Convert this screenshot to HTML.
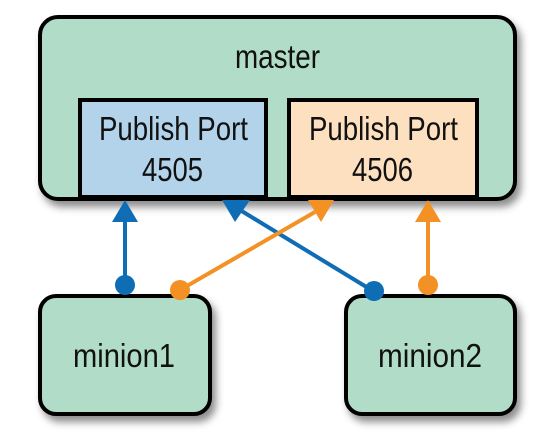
<!DOCTYPE html>
<html><head><style>
body{margin:0;background:#fff;width:554px;height:439px;overflow:hidden}
svg text{font-family:"Liberation Sans",sans-serif;fill:#111}
</style></head><body>
<svg width="554" height="439" viewBox="0 0 554 439">
<defs><filter id="s" x="-10%" y="-10%" width="130%" height="130%"><feDropShadow dx="4" dy="6" stdDeviation="4" flood-color="#000" flood-opacity="0.45"/></filter></defs>
<rect x="40" y="17" width="475" height="182" rx="18" fill="#b1dcc8" stroke="#000" stroke-width="4" filter="url(#s)"/>
<rect x="80" y="100" width="186" height="97" fill="#b2d3ea" stroke="#000" stroke-width="4"/>
<rect x="289" y="100" width="188" height="97" fill="#fde0c0" stroke="#000" stroke-width="4"/>
<rect x="40" y="296" width="170" height="118" rx="16" fill="#b1dcc8" stroke="#000" stroke-width="4" filter="url(#s)"/>
<rect x="346" y="296" width="169" height="118" rx="16" fill="#b1dcc8" stroke="#000" stroke-width="4" filter="url(#s)"/>
<text x="235" y="68" font-size="33" textLength="85" lengthAdjust="spacingAndGlyphs">master</text>
<text x="99" y="140" font-size="33" textLength="149" lengthAdjust="spacingAndGlyphs">Publish Port</text>
<text x="142" y="181" font-size="33" textLength="61" lengthAdjust="spacingAndGlyphs">4505</text>
<text x="309" y="140" font-size="33" textLength="149" lengthAdjust="spacingAndGlyphs">Publish Port</text>
<text x="352" y="181" font-size="33" textLength="61" lengthAdjust="spacingAndGlyphs">4506</text>
<text x="73" y="367" font-size="33" textLength="102" lengthAdjust="spacingAndGlyphs">minion1</text>
<text x="378" y="367" font-size="33" textLength="104" lengthAdjust="spacingAndGlyphs">minion2</text>
<g stroke-width="4">
<line x1="125" y1="285" x2="125" y2="215" stroke="#0f6db5"/>
<line x1="373" y1="291" x2="240" y2="210" stroke="#0f6db5"/>
<line x1="180" y1="290" x2="315" y2="212" stroke="#f39125"/>
<line x1="428" y1="285" x2="428" y2="215" stroke="#f39125"/>
</g>
<polygon points="125,200 112,222 138,222" fill="#0f6db5"/>
<polygon points="222,200 250,200 235,222" fill="#0f6db5"/>
<polygon points="308,200 334,200 321,222" fill="#f39125"/>
<polygon points="428,200 415,222 441,222" fill="#f39125"/>
<circle cx="125" cy="285" r="10" fill="#0f6db5"/>
<circle cx="180" cy="290" r="10" fill="#f39125"/>
<circle cx="374" cy="291" r="10" fill="#0f6db5"/>
<circle cx="428" cy="285" r="10" fill="#f39125"/>
</svg>
</body></html>
